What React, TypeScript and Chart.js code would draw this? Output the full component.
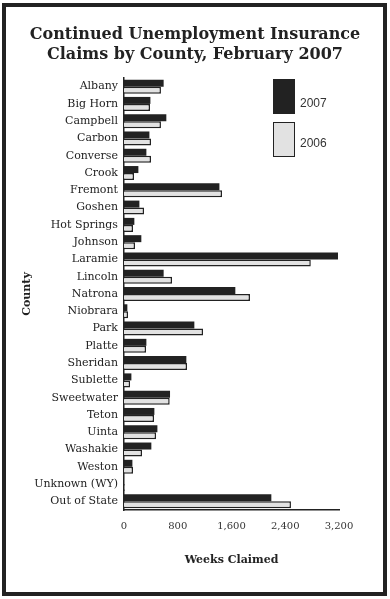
import React, { useEffect, useRef } from "react";
import { Chart, registerables } from "chart.js";

Chart.register(...registerables);

const counties = [
  "Albany", "Big Horn", "Campbell", "Carbon", "Converse", "Crook", "Fremont",
  "Goshen", "Hot Springs", "Johnson", "Laramie", "Lincoln", "Natrona",
  "Niobrara", "Park", "Platte", "Sheridan", "Sublette", "Sweetwater", "Teton",
  "Uinta", "Washakie", "Weston", "Unknown (WY)", "Out of State",
];

const claims2007 = [
  590, 393, 630, 378, 333, 214, 1420, 229, 154, 258, 3185, 590, 1657, 50,
  1047, 333, 928, 110, 685, 452, 497, 407, 125, 0, 2193,
];

const claims2006 = [
  550, 387, 550, 402, 402, 149, 1459, 298, 134, 164, 2780, 715, 1875, 60,
  1176, 328, 938, 90, 680, 447, 477, 268, 134, 10, 2485,
];

const xTicks = [0, 800, 1600, 2400, 3200];

const DARK = "#222222";
const LIGHT = "#e2e2e2";

export default function App() {
  const ref = useRef<HTMLCanvasElement | null>(null);

  useEffect(() => {
    if (!ref.current) return;
    const chart = new Chart(ref.current, {
      type: "bar",
      data: {
        labels: counties,
        datasets: [
          {
            label: "2007",
            data: claims2007,
            backgroundColor: DARK,
            borderColor: DARK,
            borderWidth: 0,
            xAxisID: "x",
            yAxisID: "y",
          },
          {
            label: "2006",
            data: claims2006,
            backgroundColor: LIGHT,
            borderColor: DARK,
            borderWidth: 1.5,
            xAxisID: "x",
            yAxisID: "y",
          },
        ],
      },
      options: {
        indexAxis: "y",
        animation: false,
        responsive: false,
        maintainAspectRatio: false,
        layout: { padding: { left: 0, right: 0, top: 0, bottom: 20 } },
        datasets: {
          bar: { barPercentage: 1, categoryPercentage: 0.81 },
        },
        plugins: {
          legend: { display: false },
          tooltip: { enabled: false },
          title: {
            display: true,
            text: ["Continued Unemployment Insurance", "Claims by County, February 2007"],
            color: DARK,
            font: { family: "'DejaVu Serif', serif", size: 16, weight: "bold", lineHeight: 1.25 },
            padding: { top: 25, bottom: 13 },
          },
        },
        scales: {
          y: {
            type: "category",
            position: "left",
            grid: { display: false, drawTicks: false },
            border: { display: true, color: DARK, width: 1.5 },
            ticks: {
              color: "#222",
              padding: 6,
              font: { family: "'DejaVu Serif', serif", size: 11 },
              autoSkip: false,
            },
            title: {
              display: true,
              text: "County",
              color: DARK,
              font: { family: "'DejaVu Serif', serif", size: 11, weight: "bold" },
              padding: { top: 21, bottom: 0 },
            },
            afterFit: (s: any) => {
              s.width = 124;
            },
          },
          yPad: {
            type: "linear",
            position: "right",
            display: true,
            grid: { display: false, drawTicks: false },
            border: { display: false },
            ticks: { display: false },
            afterFit: (s: any) => {
              s.width = 51;
            },
          },
          x: {
            type: "linear",
            position: "bottom",
            min: 0,
            max: 3200,
            afterBuildTicks: (s: any) => {
              s.ticks = xTicks.map((v) => ({ value: v }));
            },
            grid: { display: false, drawTicks: false },
            border: { display: true, color: DARK, width: 1.5 },
            ticks: {
              color: "#333",
              padding: 10,
              font: { family: "'DejaVu Serif', serif", size: 10 },
              callback: (v: any) => Number(v).toLocaleString("en-US"),
            },
            title: {
              display: true,
              text: "Weeks Claimed",
              color: DARK,
              font: { family: "'DejaVu Serif', serif", size: 11, weight: "bold" },
              padding: { top: 0, bottom: 12 },
            },
            afterFit: (s: any) => {
              s.height = 69;
            },
          },
        },
      },
    });
    return () => chart.destroy();
  }, []);

  const legendText: React.CSSProperties = {
    position: "absolute",
    left: 300,
    fontFamily: "'Liberation Sans', Arial, sans-serif",
    fontSize: 12,
    color: "#333",
    lineHeight: "14px",
  };

  return (
    <div style={{ position: "absolute", left: 0, top: 0, width: 390, height: 599, background: "#fff" }}>
      <canvas ref={ref} width={390} height={599} style={{ position: "absolute", left: 0, top: 0 }} />
      <div
        style={{
          position: "absolute",
          left: 2,
          top: 3,
          width: 385,
          height: 593,
          border: `4px solid ${DARK}`,
          boxSizing: "border-box",
          pointerEvents: "none",
        }}
      />
      <div style={{ position: "absolute", left: 273, top: 79, width: 22, height: 35, background: DARK }} />
      <div
        style={{
          position: "absolute",
          left: 273,
          top: 122,
          width: 22,
          height: 35,
          background: LIGHT,
          border: `1.5px solid ${DARK}`,
          boxSizing: "border-box",
        }}
      />
      <div style={{ ...legendText, top: 96 }}>2007</div>
      <div style={{ ...legendText, top: 136 }}>2006</div>
    </div>
  );
}
